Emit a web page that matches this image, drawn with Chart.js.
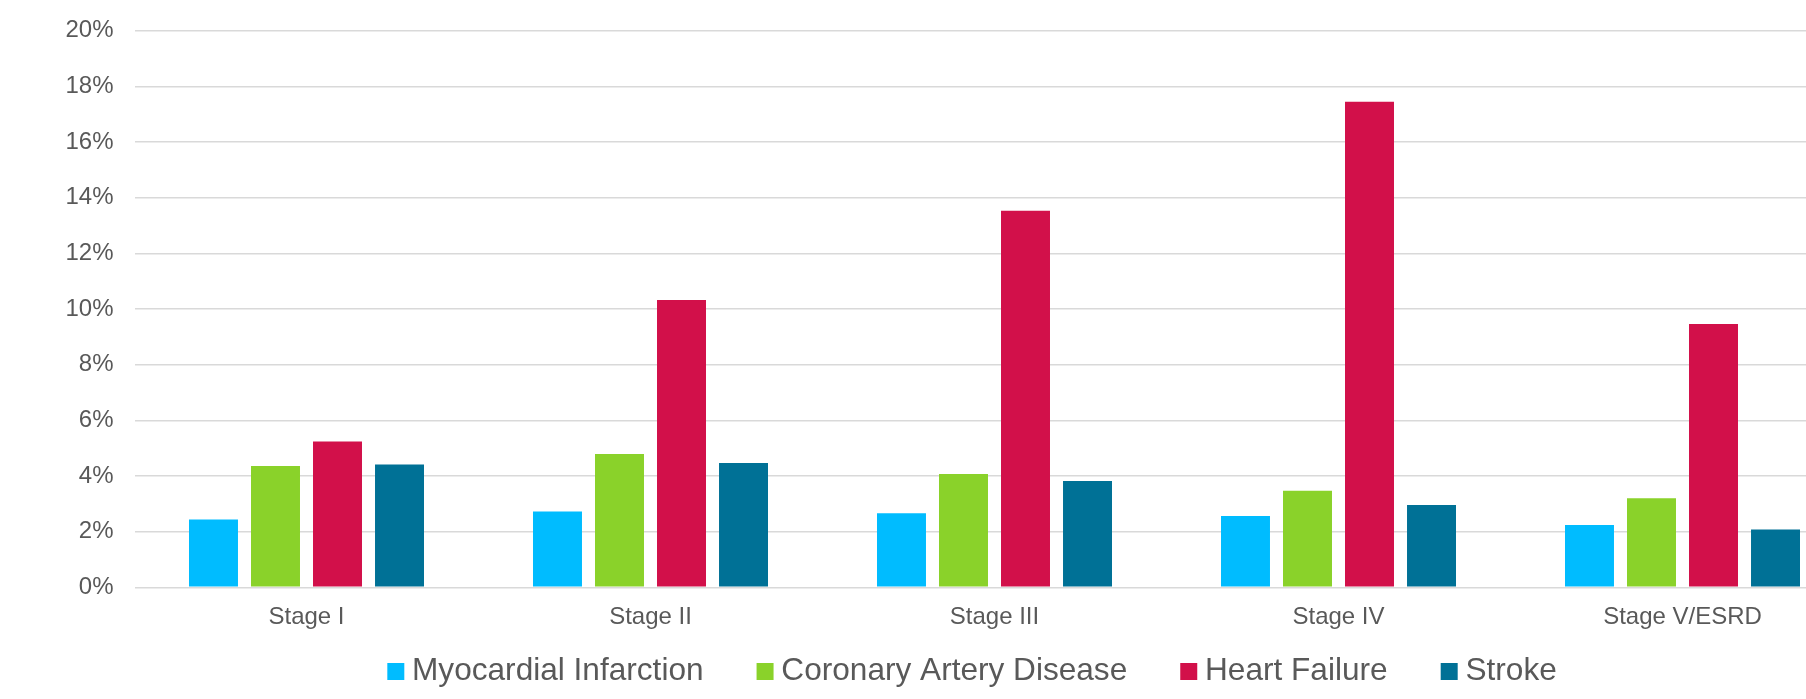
<!DOCTYPE html>
<html>
<head>
<meta charset="utf-8">
<script src="https://cdn.jsdelivr.net/npm/chart.js@4/dist/chart.umd.min.js"></script>
<style>
  html, body { margin: 0; padding: 0; background: #ffffff; overflow: hidden; }
  #wrap { width: 1944px; height: 699px; }
</style>
</head>
<body>
<div id="wrap"><canvas id="chart" width="1944" height="699"></canvas></div>
<script>
// CKD stage categories
const stages = ['Stage I', 'Stage II', 'Stage III', 'Stage IV', 'Stage V/ESRD'];

// Incidence (%) per stage for each cardiovascular outcome
const myocardialInfarction = [2.44, 2.72, 2.66, 2.56, 2.24];
const coronaryArteryDisease = [4.36, 4.79, 4.07, 3.47, 3.20];
const heartFailure = [5.24, 10.32, 13.53, 17.45, 9.46];
const stroke = [4.41, 4.47, 3.82, 2.96, 2.08];

// Y axis ticks (percent)
const yTicks = [0, 2, 4, 6, 8, 10, 12, 14, 16, 18, 20];

const seriesNames = ['Myocardial Infarction', 'Coronary Artery Disease', 'Heart Failure', 'Stroke'];
const seriesColors = ['#00BCFF', '#8AD22A', '#D2104A', '#007196'];
const seriesValues = [myocardialInfarction, coronaryArteryDisease, heartFailure, stroke];

const textColor = '#595959';
const fontFamily = "'Liberation Sans', Arial, sans-serif";

const datasets = seriesNames.map((name, i) => ({
  label: name,
  data: seriesValues[i],
  backgroundColor: seriesColors[i],
  borderWidth: 0,
  categoryPercentage: 0.721,
  barPercentage: 0.79,
  yAxisID: 'y'
}));

// Legend swatch: a 17px square placed so the label sits close to it
function legendSwatch(color) {
  const c = document.createElement('canvas');
  c.width = 33;
  c.height = 17;
  const g = c.getContext('2d');
  g.fillStyle = color;
  g.fillRect(12, 0, 17, 17);
  return c;
}
const swatches = seriesColors.map(legendSwatch);

// Let the category labels extend below the compact x-axis box
const xLabelRoom = {
  id: 'xLabelRoom',
  afterLayout(chart) {
    chart.scales.x.bottom = chart.height;
  }
};

new Chart(document.getElementById('chart'), {
  type: 'bar',
  data: { labels: stages, datasets },
  plugins: [xLabelRoom],
  options: {
    responsive: false,
    animation: false,
    devicePixelRatio: 1,
    layout: { padding: { top: 30.7, left: 0, right: 0, bottom: 1.5 } },
    plugins: {
      tooltip: { enabled: false },
      legend: {
        position: 'bottom',
        align: 'center',
        labels: {
          usePointStyle: true,
          pointStyleWidth: 9,
          boxHeight: 17,
          padding: 53,
          color: textColor,
          font: { family: fontFamily, size: 31.6 },
          generateLabels(chart) {
            const items = Chart.defaults.plugins.legend.labels.generateLabels(chart);
            items.forEach(item => { item.pointStyle = swatches[item.datasetIndex]; });
            return items;
          }
        }
      }
    },
    scales: {
      x: {
        grid: { display: false },
        border: { display: false },
        ticks: {
          color: textColor,
          padding: 8,
          font: { family: fontFamily, size: 24 }
        },
        afterFit(scale) { scale.height = 15.6; }
      },
      y: {
        position: 'left',
        min: 0,
        max: 20,
        afterBuildTicks(scale) { scale.ticks = yTicks.map(v => ({ value: v })); },
        grid: { color: '#d9d9d9', lineWidth: 1.5, drawTicks: false },
        border: { display: false },
        ticks: {
          color: textColor,
          padding: 21,
          font: { family: fontFamily, size: 24 },
          callback: v => v + '%'
        },
        afterFit(scale) {
          scale.width = 134.5;
          scale.paddingTop = 0;
          scale.paddingBottom = 0;
        }
      },
      yRight: {
        position: 'right',
        grid: { display: false, drawTicks: false },
        border: { display: false },
        ticks: { display: false },
        afterFit(scale) { scale.width = 89.5; }
      }
    }
  }
});
</script>
</body>
</html>
